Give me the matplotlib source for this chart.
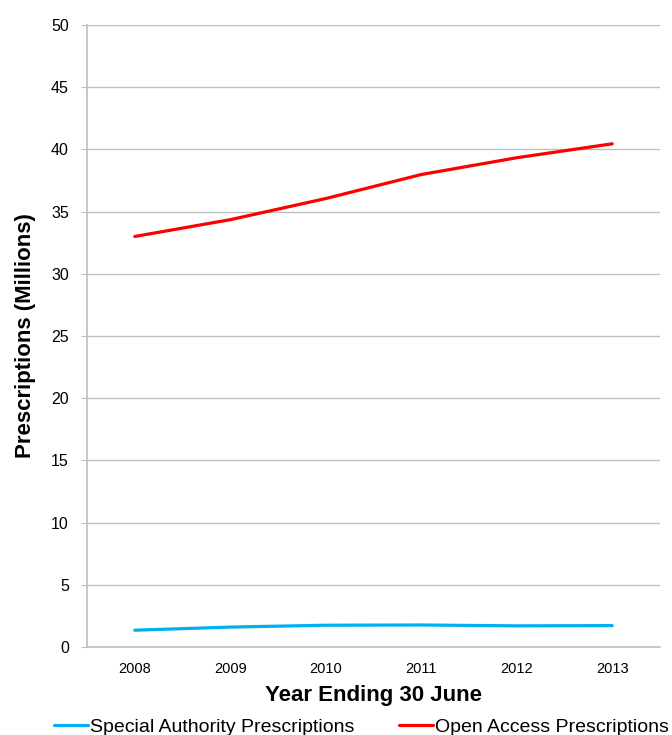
import numpy as np
import matplotlib
matplotlib.use("Agg")
import matplotlib.pyplot as plt

plt.rcParams['font.family'] = ['Liberation Sans', 'DejaVu Sans']

years = ["2008", "2009", "2010", "2011", "2012", "2013"]
special_authority = [1.35, 1.6, 1.75, 1.77, 1.7, 1.72]
open_access = [33.0, 34.35, 36.05, 37.98, 39.33, 40.45]

fig = plt.figure(figsize=(6.72, 7.35), dpi=100)
ax = fig.add_axes([87/672, 88/735, (660-87)/672, (647-25)/735])

x = np.arange(len(years))
l1, = ax.plot(x, special_authority, color="#00b0f0", lw=2.3,
              solid_capstyle="round", label="Special Authority Prescriptions")
l2, = ax.plot(x, open_access, color="#ff0000", lw=2.3,
              solid_capstyle="round", label="Open Access Prescriptions")

ax.set_xlim(-0.5, len(years) - 0.5)
ax.set_ylim(0, 50)
ax.set_yticks(np.arange(0, 51, 5))
ax.set_xticks(x)
ax.set_xticklabels(years, fontsize=10.5)
ax.tick_params(axis="y", labelsize=11.5, length=4, color="#bfbfbf", pad=9)
ax.tick_params(axis="x", length=0, pad=11)
ax.yaxis.grid(True, color="#bfbfbf", lw=1)
ax.set_axisbelow(True)
for s in ["top", "right"]:
    ax.spines[s].set_visible(False)
for s in ["left", "bottom"]:
    ax.spines[s].set_color("#bfbfbf")
    ax.spines[s].set_linewidth(1.2)

ax.set_xlabel("Year Ending 30 June", fontsize=16, fontweight="bold", labelpad=6.5)
ax.set_ylabel("Prescriptions (Millions)", fontsize=16, fontweight="bold", labelpad=11)

fig.legend(handles=[l1, l2], loc="center left", bbox_to_anchor=(54/672, 1 - 727/735),
           ncol=2, frameon=False, fontsize=14, handlelength=1.75,
           handletextpad=0.1, columnspacing=2.3, borderpad=0, borderaxespad=0)

fig.savefig("out.png", dpi=100)
